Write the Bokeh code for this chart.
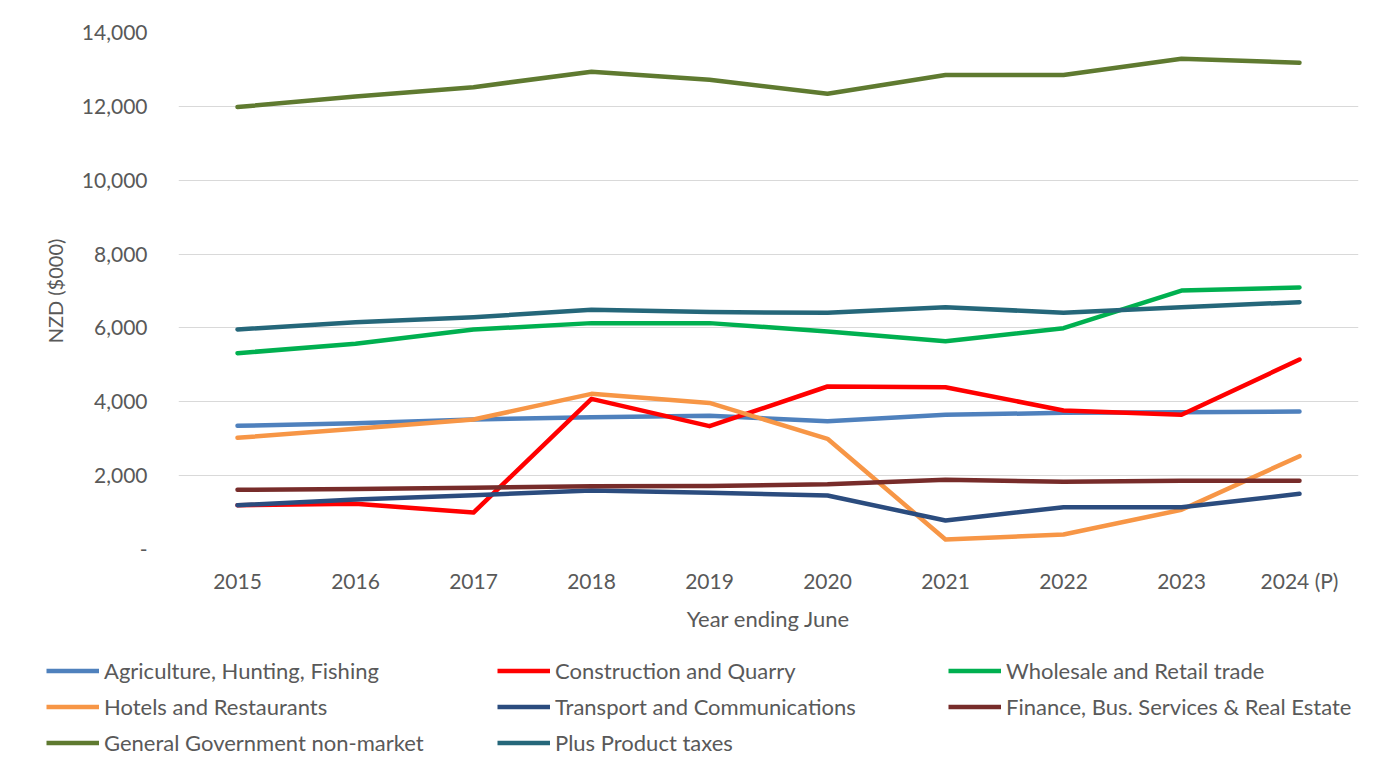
from bokeh.plotting import figure
from bokeh.models import FixedTicker, NumeralTickFormatter, Legend, LegendItem, FactorRange, Range1d
from bokeh.embed import file_html
from bokeh.resources import INLINE

years = ["2015", "2016", "2017", "2018", "2019", "2020", "2021", "2022", "2023", "2024 (P)"]

agriculture = [3350, 3420, 3520, 3580, 3620, 3475, 3647, 3700, 3718, 3737]
construction = [1200, 1237, 1000, 4080, 3340, 4414, 4395, 3764, 3647, 5145]
wholesale = [5316, 5570, 5957, 6130, 6130, 5903, 5641, 5993, 7013, 7094]
hotels = [3025, 3268, 3520, 4215, 3970, 2997, 271, 406, 1075, 2527]
transport = [1200, 1354, 1470, 1598, 1535, 1462, 785, 1146, 1146, 1508]
finance = [1616, 1640, 1670, 1715, 1720, 1768, 1887, 1833, 1860, 1860]
government = [11980, 12270, 12520, 12940, 12720, 12340, 12850, 12850, 13290, 13180]
product_taxes = [5960, 6155, 6290, 6490, 6430, 6410, 6562, 6410, 6560, 6697]

series_names = [
    "Agriculture, Hunting, Fishing",
    "Construction and Quarry",
    "Wholesale and Retail trade",
    "Hotels and Restaurants",
    "Transport and Communications",
    "Finance, Bus. Services & Real Estate",
    "General Government non-market",
    "Plus Product taxes",
]
series_values = [agriculture, construction, wholesale, hotels, transport, finance, government, product_taxes]
colors = ["#4F81BD", "#FF0000", "#00B050", "#F79646", "#2B4C7E", "#772C2A", "#5F7A30", "#25677A"]

y_ticks = [0, 2000, 4000, 6000, 8000, 10000, 12000, 14000]

FONT = "Lato"
TEXT_COLOR = "#595959"
LINE_W = 4.5

p = figure(
    width=1383, height=640,
    x_range=FactorRange(*years, range_padding=0),
    y_range=Range1d(0, 14000),
    output_backend="svg", toolbar_location=None,
    min_border_left=178, min_border_right=25, min_border_top=32, min_border_bottom=91,
)
p.x_range.factor_padding = 0
p.outline_line_color = None
p.background_fill_color = "white"
p.border_fill_color = "white"

for name, vals, col in zip(series_names, series_values, colors):
    p.line(years, vals, line_color=col, line_width=LINE_W, line_cap="round", line_join="round")

# axes
p.yaxis.ticker = FixedTicker(ticks=y_ticks)
p.yaxis.formatter = NumeralTickFormatter(format="0,0")
p.yaxis.major_label_overrides = {0: "-"}
for ax in (p.xaxis, p.yaxis):
    ax.axis_line_color = None
    ax.major_tick_line_color = None
    ax.minor_tick_line_color = None
    ax.major_label_text_font = FONT
    ax.major_label_text_font_size = "21px"
    ax.major_label_text_color = TEXT_COLOR
    ax.axis_label_text_font = FONT
    ax.axis_label_text_color = TEXT_COLOR
    ax.axis_label_text_font_style = "normal"
p.yaxis.axis_label_text_font_size = "20px"
p.xaxis.axis_label_text_font_size = "22px"
p.yaxis.axis_label = "NZD ($000)"
p.xaxis.axis_label = "Year ending June"
p.yaxis.major_label_standoff = 25
p.xaxis.major_label_standoff = 12
p.xaxis.axis_label_standoff = 9
p.yaxis.axis_label_standoff = 12

p.xgrid.grid_line_color = None
p.ygrid.grid_line_color = "#D9D9D9"
p.ygrid.grid_line_width = 1.2

# legend panel: separate figure below; its series lie outside its view, only the keys show
lg = figure(
    width=1383, height=126,
    x_range=FactorRange(*years), y_range=Range1d(-3, -2),
    x_axis_type=None, y_axis_type=None,
    output_backend="svg", toolbar_location=None,
    min_border_left=0, min_border_right=0, min_border_top=0, min_border_bottom=0,
)
lg.outline_line_color = None
lg.xgrid.grid_line_color = None
lg.ygrid.grid_line_color = None
items = []
for name, vals, col in zip(series_names, series_values, colors):
    r = lg.line(years, vals, line_color=col, line_width=LINE_W)
    items.append(LegendItem(label=name, renderers=[r]))
legend = Legend(
    items=items, orientation="horizontal", ncols=3, location=(46, 8),
    glyph_width=53, glyph_height=31, label_standoff=5,
    label_width=388, spacing=5,
    label_text_font=FONT, label_text_font_size="22px", label_text_color=TEXT_COLOR,
    border_line_color=None, background_fill_alpha=0, padding=0, margin=0,
)
lg.add_layout(legend, "center")

open("out.html", "w").write(file_html([p, lg], INLINE))
